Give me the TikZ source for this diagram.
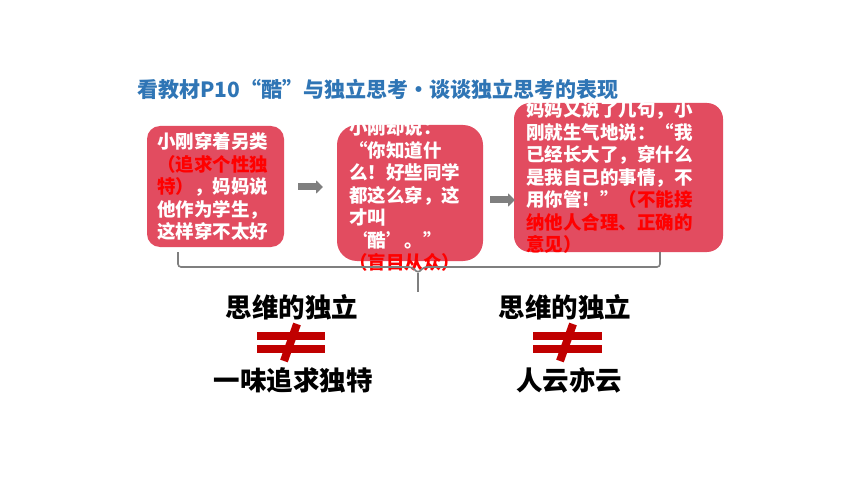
\documentclass[tikz,border=0pt]{standalone}
\usepackage{fontspec}
\newfontfamily\cjk{Noto Sans CJK SC}
\usetikzlibrary{arrows.meta}
\definecolor{boxred}{HTML}{E24C60}
\definecolor{titleblue}{HTML}{2F75B5}
\definecolor{neqred}{HTML}{C00000}
\definecolor{arrowgray}{HTML}{7F7F7F}
\newcommand\hlr[1]{\textcolor{red}{#1}}
\begin{document}
\begin{tikzpicture}[x=1pt,y=-1pt,
  box/.style={fill=boxred, draw=none, inner sep=0pt},
  boxtext/.style={anchor=north west, inner sep=0pt, align=left, text=white,
    font=\cjk\bfseries\fontsize{18.5}{22.5}\selectfont},
  bigtext/.style={inner sep=0pt, text=black, font=\cjk\bfseries\fontsize{26.5}{30}\selectfont},
  flowarrow/.style={line width=7pt, arrowgray, -{Triangle[length=7pt,width=13pt]}},
  brace/.style={draw=arrowgray, line width=1.6pt, rounded corners=3pt},
  neqbar/.style={fill=neqred, draw=none},
  neqslash/.style={draw=neqred, line width=8pt}
]
\useasboundingbox (0,0) rectangle (860,484);
\fill[white] (0,0) rectangle (860,484);

% title
\node[anchor=west, inner sep=0pt, text=titleblue, font=\cjk\bfseries\fontsize{21}{25}\selectfont] (title) at (137,89)
  {看教材P10“酷”与独立思考•谈谈独立思考的表现};

% boxes
\fill[box, rounded corners=13pt] (147,126) rectangle (284,247);
\node[box, minimum width=137pt, minimum height=121pt, fill=none] (b1) at (215.5,186.5) {};
\fill[box, rounded corners=20pt] (337,125) rectangle (483,261);
\node[box, minimum width=146pt, minimum height=136pt, fill=none] (b2) at (410,193) {};
\fill[box, rounded corners=16pt] (514,103) rectangle (723,252);
\node[box, minimum width=209pt, minimum height=149pt, fill=none] (b3) at (618.5,177.5) {};

% texts in boxes
\node[boxtext] (t1) at (157,132.7) {小刚穿着另类\\\hlr{（追求个性独}\\\hlr{特）}，妈妈说\\他作为学生，\\这样穿不太好};
\node[boxtext] (t2) at (349,118.7) {小刚却说：\\“你知道什\\么！好些同学\\都这么穿，这\\才叫\\‘酷’。”\\\hlr{（盲目从众）}};
\node[boxtext] (t3) at (526,100.7) {妈妈又说了几句，小\\刚就生气地说：“我\\已经长大了，穿什么\\是我自己的事情，不\\用你管！”\hlr{（不能接}\\\hlr{纳他人合理、正确的}\\\hlr{意见）}};

% arrows
\coordinate (a1s) at (298,187);
\coordinate (a1e) at (323,187);
\coordinate (a2s) at (490,200);
\coordinate (a2e) at (515,200);
\draw[flowarrow] (a1s) -- (a1e);
\draw[flowarrow] (a2s) -- (a2e);

% brace
\coordinate (brL) at (178,252);
\coordinate (brR) at (660,252);
\coordinate (brTip) at (418,273);
\coordinate (brEnd) at (418,292);
\draw[brace] (brL) |- (412,267) -- (brTip) -- (424,267) -| (brR);
\draw[draw=arrowgray, line width=1.6pt] (brTip) -- (brEnd);

% bottom texts
\node[bigtext] (l1) at (292,307) {思维的独立};
\node[bigtext] (r1) at (565,307) {思维的独立};
\node[bigtext] (l2) at (293,380) {一味追求独特};
\node[bigtext] (r2) at (569,380) {人云亦云};

% not-equal signs
\fill[neqbar] (257,332) rectangle (325,340);
\fill[neqbar] (257,345) rectangle (325,353);
\draw[neqslash] (297,324) -- (284,361);
\fill[neqbar] (533,332) rectangle (602,340);
\fill[neqbar] (533,345) rectangle (602,353);
\draw[neqslash] (573,324) -- (560,361);
\end{tikzpicture}
\end{document}
